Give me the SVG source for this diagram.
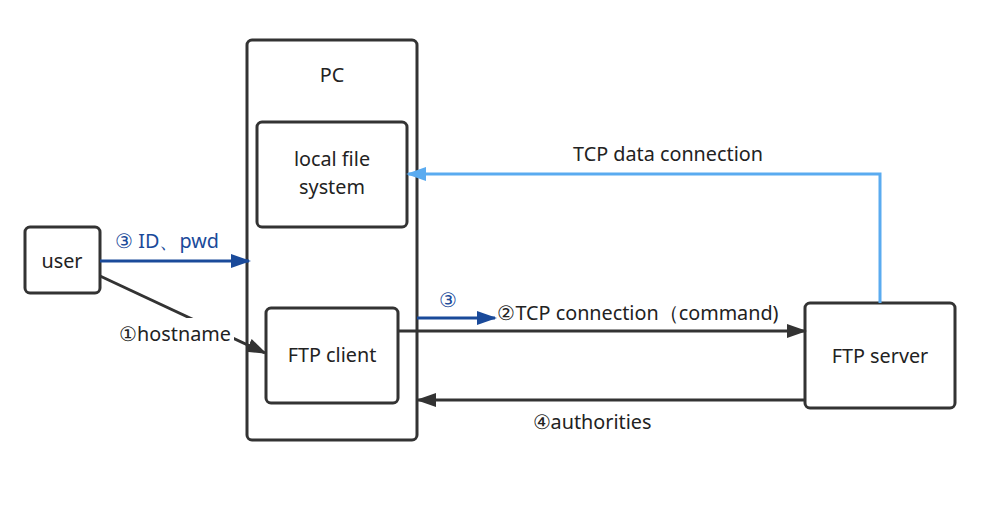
<svg xmlns="http://www.w3.org/2000/svg" width="1006" height="505" viewBox="0 0 1006 505">
<style>
.box{fill:#fff;stroke:#333;stroke-width:3}
.t{font-family:"Noto Sans","Liberation Sans",sans-serif;font-size:19.8px;fill:#222;text-anchor:middle}
.bt{fill:#1a4a9a}
.k{stroke:#333;stroke-width:3;fill:none}
.b{stroke:#1a4a9a;stroke-width:3;fill:none}
.lb{stroke:#5aabf0;stroke-width:3;fill:none}
</style>
<defs>
<marker id="ak" markerWidth="20" markerHeight="14" refX="18" refY="7" orient="auto" markerUnits="userSpaceOnUse"><path d="M0,0 L20,7 L0,14 z" fill="#333"/></marker>
<marker id="ab" markerWidth="20" markerHeight="14" refX="18" refY="7" orient="auto" markerUnits="userSpaceOnUse"><path d="M0,0 L20,7 L0,14 z" fill="#1a4a9a"/></marker>
<marker id="al" markerWidth="20" markerHeight="14" refX="18" refY="7" orient="auto" markerUnits="userSpaceOnUse"><path d="M0,0 L20,7 L0,14 z" fill="#5aabf0"/></marker>
</defs>
<rect width="1006" height="505" fill="#fff"/>
<g id="pc"><rect class="box" x="247" y="40" width="170" height="400" rx="5"/><text class="t" x="332" y="82">PC</text></g>
<g id="localfs"><rect class="box" x="257" y="122" width="150" height="105" rx="5"/><text class="t" x="332" y="166">local file</text><text class="t" x="332" y="194">system</text></g>
<g id="ftpclient"><rect class="box" x="266" y="308" width="132" height="95" rx="5"/><text class="t" x="332" y="362">FTP client</text></g>
<g id="user"><rect class="box" x="25" y="227" width="75" height="66" rx="5"/><text class="t" x="62" y="268">user</text></g>
<g id="ftpserver"><rect class="box" x="805" y="303" width="150" height="105" rx="5"/><text class="t" x="880" y="363">FTP server</text></g>
<g id="connectors">
<path class="b" d="M100,261 H249" marker-end="url(#ab)"/>
<text class="t bt" x="167" y="248">③ ID、pwd</text>
<path class="k" d="M100,276 L265,353" marker-end="url(#ak)"/>
<rect x="116" y="318" width="118" height="24" fill="#fff"/>
<text class="t" x="175" y="341">①hostname</text>
<path class="k" d="M398,331 H805" marker-end="url(#ak)"/>
<path class="b" d="M417,318 H495" marker-end="url(#ab)"/>
<text class="t bt" x="448" y="307">③</text>
<text class="t" x="638" y="320">②TCP connection（command)</text>
<path class="k" d="M805,400 H418" marker-end="url(#ak)"/>
<text class="t" x="592" y="429">④authorities</text>
<path class="lb" d="M880,303 V174 H408" marker-end="url(#al)"/>
<text class="t" x="668" y="161">TCP data connection</text>
</g>
</svg>
